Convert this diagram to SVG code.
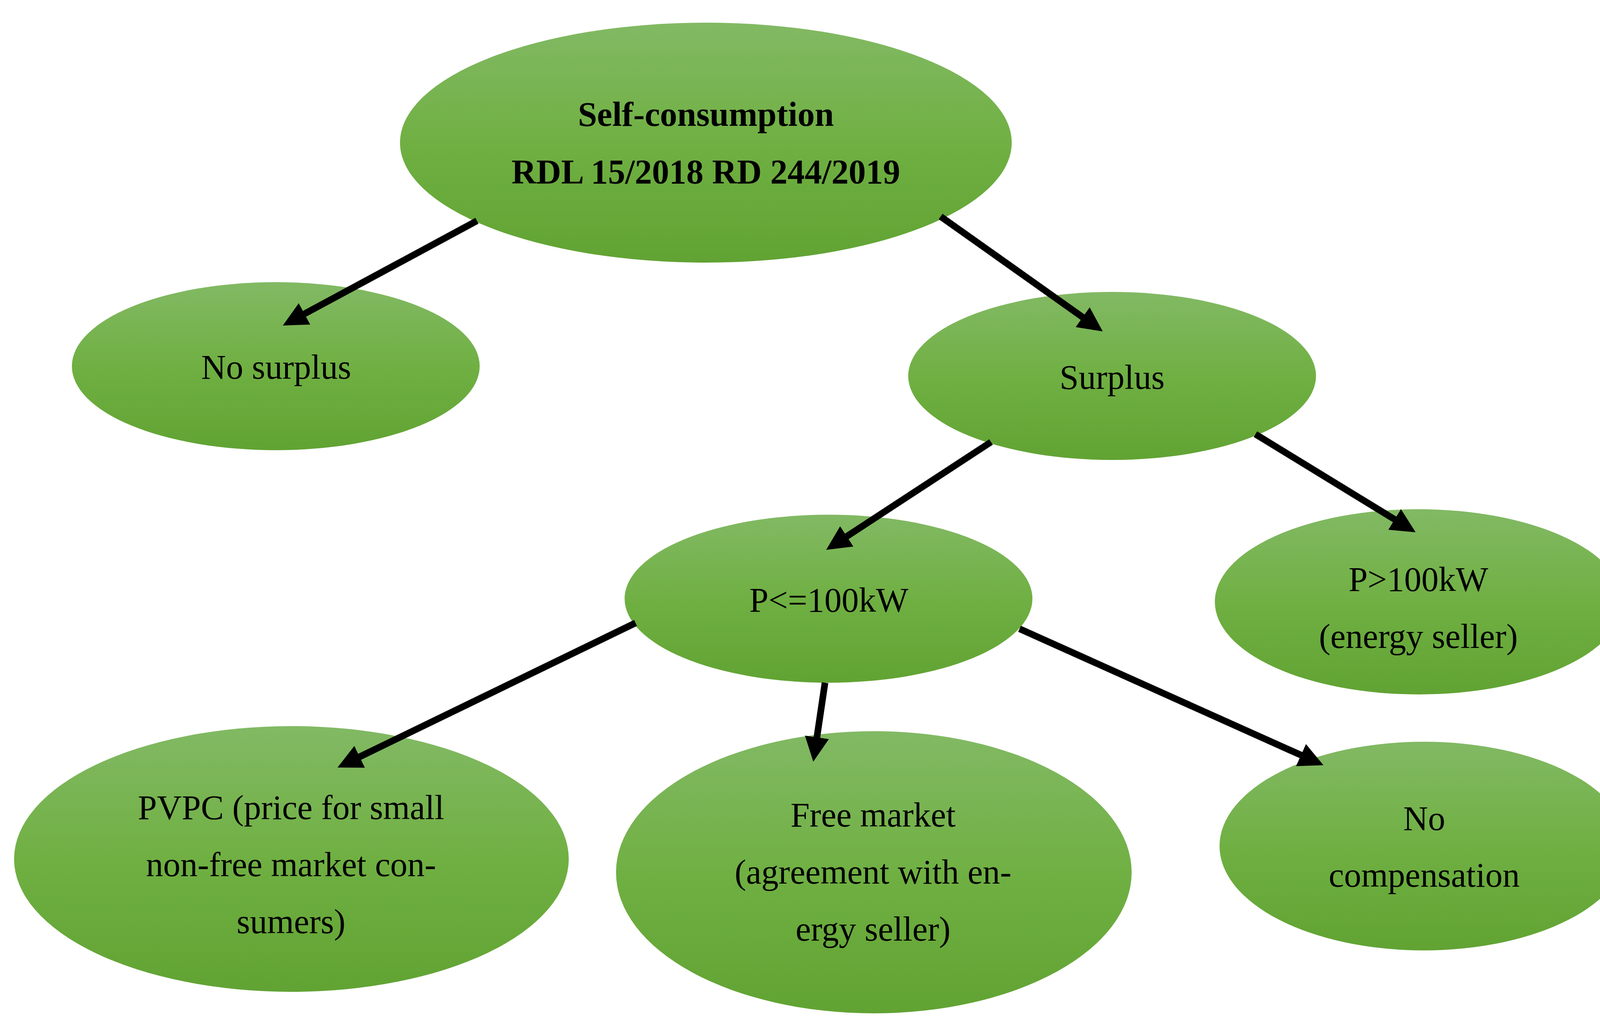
<svg xmlns="http://www.w3.org/2000/svg" width="4246" height="2651" viewBox="0 0 4246 2651">
<defs>
<linearGradient id="g" x1="0" y1="0" x2="0" y2="1">
<stop offset="0" stop-color="#82b964"/>
<stop offset="0.5" stop-color="#70b043"/>
<stop offset="1" stop-color="#61a333"/>
</linearGradient>
<marker id="ah" markerUnits="userSpaceOnUse" markerWidth="64" markerHeight="66" viewBox="0 0 64 66" refX="1" refY="33" orient="auto">
<path d="M0,2 L63,33 L0,64 z" fill="#000"/>
</marker>
</defs>
<style>
.node{fill:url(#g);stroke:none}
.t{font-family:"Liberation Serif","Times New Roman",serif;font-size:88px;fill:#000;text-anchor:middle}
.b{font-weight:bold}
.c{stroke:#000;stroke-width:17;fill:none;marker-end:url(#ah)}
</style>
<rect width="4246" height="2651" fill="#fff"/>
<g id="n-root">
<ellipse class="node" cx="1807" cy="365" rx="783" ry="307"/>
<text class="t b" x="1807" y="322">Self-consumption</text>
<text class="t b" x="1807" y="469">RDL 15/2018 RD 244/2019</text>
</g>
<g id="n-nosurplus">
<ellipse class="node" cx="706" cy="937" rx="522" ry="215"/>
<text class="t" x="707" y="969">No surplus</text>
</g>
<g id="n-surplus">
<ellipse class="node" cx="2847" cy="962" rx="522" ry="215"/>
<text class="t" x="2847" y="995">Surplus</text>
</g>
<g id="n-ple100">
<ellipse class="node" cx="2121" cy="1532" rx="522" ry="215"/>
<text class="t" x="2122" y="1565">P&lt;=100kW</text>
</g>
<g id="n-pgt100">
<ellipse class="node" cx="3632" cy="1540" rx="522" ry="237"/>
<text class="t" x="3631" y="1512">P&gt;100kW</text>
<text class="t" x="3631" y="1658">(energy seller)</text>
</g>
<g id="n-pvpc">
<ellipse class="node" cx="746" cy="2198" rx="710" ry="340"/>
<text class="t" x="745" y="2096">PVPC (price for small</text>
<text class="t" x="745" y="2242">non-free market con-</text>
<text class="t" x="745" y="2388">sumers)</text>
</g>
<g id="n-free">
<ellipse class="node" cx="2237" cy="2232" rx="660" ry="361"/>
<text class="t" x="2235" y="2115">Free market</text>
<text class="t" x="2235" y="2261">(agreement with en-</text>
<text class="t" x="2235" y="2407">ergy seller)</text>
</g>
<g id="n-nocomp">
<ellipse class="node" cx="3645" cy="2165" rx="523" ry="267"/>
<text class="t" x="3646" y="2124">No</text>
<text class="t" x="3646" y="2269">compensation</text>
</g>
<g id="connectors">
<line class="c" x1="1221" y1="565" x2="778.6" y2="803.6"/>
<line class="c" x1="2408" y1="554" x2="2772.4" y2="812.2"/>
<line class="c" x1="2537" y1="1131" x2="2166.9" y2="1373.1"/>
<line class="c" x1="3214" y1="1111" x2="3571.1" y2="1329.6"/>
<line class="c" x1="1627" y1="1594" x2="919.8" y2="1937"/>
<line class="c" x1="2112" y1="1747" x2="2091.1" y2="1887.7"/>
<line class="c" x1="2610" y1="1609" x2="3331.4" y2="1932.6"/>
</g>
</svg>
